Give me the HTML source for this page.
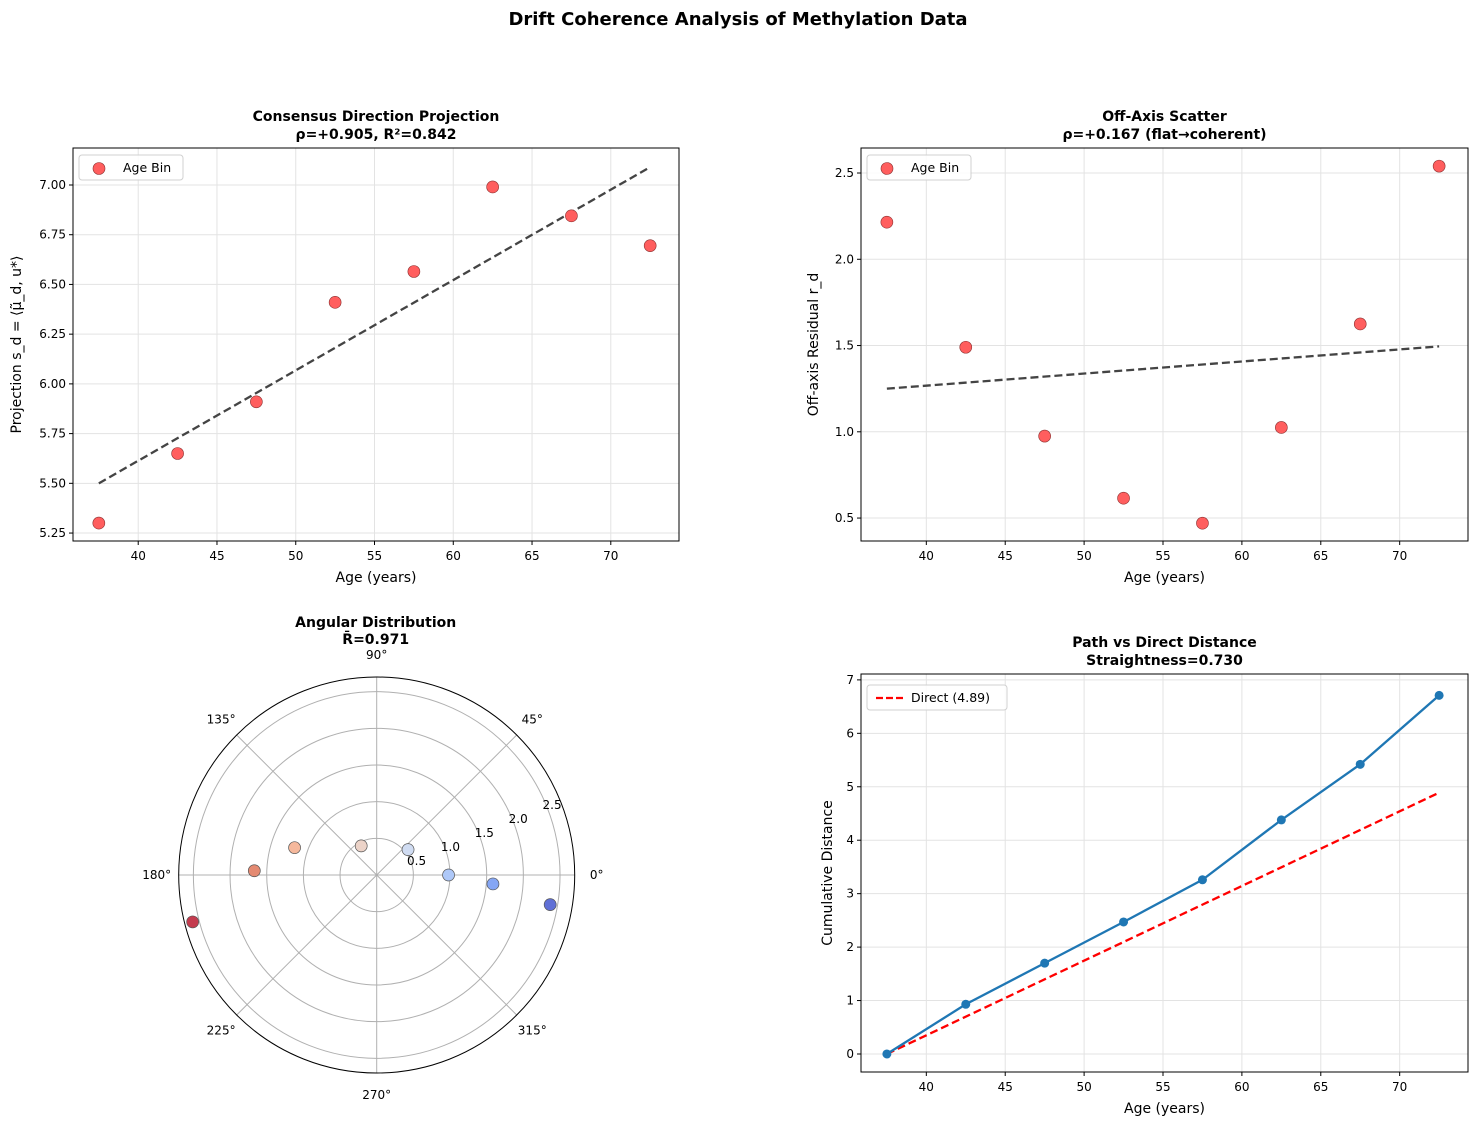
<!DOCTYPE html>
<html><head><meta charset="utf-8"><style>
body{margin:0;background:#fff;font-family:"Liberation Sans","DejaVu Sans",sans-serif;}
svg text{font-family:"DejaVu Sans","Liberation Sans",sans-serif;}
</style></head><body>
<svg id="fig" width="1477" height="1126" xmlns="http://www.w3.org/2000/svg">
<text x="738" y="25" text-anchor="middle" font-size="18" font-weight="bold">Drift Coherence Analysis of Methylation Data</text>
</svg>
<script>
const ages=[37.5,42.5,47.5,52.5,57.5,62.5,67.5,72.5];
const projection=[5.30,5.65,5.91,6.41,6.565,6.99,6.845,6.695];
const projTrend=[5.50,7.09];
const residual=[2.215,1.49,0.975,0.615,0.47,1.025,1.625,2.54];
const resTrend=[1.25,1.495];
const cumDist=[0,0.93,1.70,2.47,3.26,4.38,5.42,6.71];
const directDist=[0,4.89];
const polarR=[0.98,1.59,2.40,0.55,0.45,1.18,1.67,2.59];
const polarThetaDeg=[0,-4.4,-9.7,39,118,161.6,178,194.3];
const polarColors=['#aec8f8','#85a6f4','#6070d6','#d0dcf2','#ecd3c8','#f5b89c','#e48a72','#c43b4e'];
const xTicks=[40,45,50,55,60,65,70];
const yTicksA=[5.25,5.50,5.75,6.00,6.25,6.50,6.75,7.00];
const yTicksB=[0.5,1.0,1.5,2.0,2.5];
const yTicksD=[0,1,2,3,4,5,6,7];

const NS='http://www.w3.org/2000/svg';
const fig=document.getElementById('fig');
function el(tag,attrs,parent,txt){const e=document.createElementNS(NS,tag);for(const k in attrs)e.setAttribute(k,attrs[k]);if(txt!==undefined)e.textContent=txt;(parent||fig).appendChild(e);return e;}

function panel(o){
  const g=el('g',{});
  
  
  const sx=v=>o.x0+(v-o.xmin)/(o.xmax-o.xmin)*(o.x1-o.x0);
  const sy=v=>o.y1-(v-o.ymin)/(o.ymax-o.ymin)*(o.y1-o.y0);
  // grid
  xTicks.forEach(t=>{const l=el('line',{x1:sx(t),x2:sx(t),y1:o.y0,y2:o.y1,stroke:'#e3e3e3','stroke-width':1},g);});
  o.yTicks.forEach(t=>{const l=el('line',{x1:o.x0,x2:o.x1,y1:sy(t),y2:sy(t),stroke:'#e3e3e3','stroke-width':1},g);});
  // ticks
  xTicks.forEach(t=>{el('line',{x1:sx(t),x2:sx(t),y1:o.y1,y2:o.y1+4,stroke:'#000'},g);const tx=el('text',{x:sx(t),y:o.y1+19,'text-anchor':'middle','font-size':12},g,String(t));});
  o.yTicks.forEach(t=>{el('line',{x1:o.x0-4,x2:o.x0,y1:sy(t),y2:sy(t),stroke:'#000'},g);const tx=el('text',{x:o.x0-7,y:sy(t)+4,'text-anchor':'end','font-size':12},g,t.toFixed(o.dec));});
  o.draw(g,sx,sy);
  const fr=el('rect',{x:o.x0,y:o.y0,width:o.x1-o.x0,height:o.y1-o.y0,fill:'none',stroke:'#000','stroke-width':1},g);
  
  const cx=(o.x0+o.x1)/2;
  const t1=el('text',{x:cx,y:o.y0-27,'text-anchor':'middle','font-size':14,'font-weight':'bold'},g,o.t1);
  const t2=el('text',{x:cx,y:o.y0-9,'text-anchor':'middle','font-size':14,'font-weight':'bold'},g,o.t2);
  if(o.xlabel){const xl=el('text',{x:cx,y:o.y1+41,'text-anchor':'middle','font-size':14},g,o.xlabel);}
  const yl=el('text',{x:0,y:0,'text-anchor':'middle','font-size':14,transform:`translate(${o.ylx},${(o.y0+o.y1)/2}) rotate(-90)`},g,o.ylabel);
}
function scatterDraw(vals,trend){return (g,sx,sy)=>{
  const tl=el('line',{x1:sx(ages[0]),y1:sy(trend[0]),x2:sx(ages[ages.length-1]),y2:sy(trend[1]),stroke:'#444','stroke-width':2.3,'stroke-dasharray':'8,4'},g);
  
  vals.forEach((v,i)=>{const c=el('circle',{cx:sx(ages[i]),cy:sy(v),r:6,fill:'#ff5e5e',stroke:'#8b3030','stroke-width':0.6},g);});
  const lg=el('g',{},g);
  const x0=parseFloat(g.querySelector('rect')?0:0);
};}
function legend(g,x,y,w,kind,label){
  const lg=el('g',{},g);
  el('rect',{x:x,y:y,width:w,height:25,rx:3,fill:'#fff','fill-opacity':0.85,stroke:'#d0d0d0'},lg);
  if(kind==='dot'){el('circle',{cx:x+20,cy:y+13.5,r:6,fill:'#ff5e5e',stroke:'#8b3030','stroke-width':0.6},lg);}
  else{el('line',{x1:x+9,x2:x+37,y1:y+13,y2:y+13,stroke:'#f00','stroke-width':2.3,'stroke-dasharray':'7,3'},lg);}
  const t=el('text',{x:x+44,y:y+17,'font-size':12.5},lg,label);
}
panel({name:'consensus-projection-panel',x0:73,x1:679,y0:148,y1:541,xmin:35.86,xmax:74.33,ymin:5.21,ymax:7.186,yTicks:yTicksA,dec:2,
 t1:'Consensus Direction Projection',t2:'ρ=+0.905, R²=0.842',xlabel:'Age (years)',ylabel:'Projection s_d = ⟨μ̃_d, u*⟩',ylx:21,
 draw:(g,sx,sy)=>{scatterDraw(projection,projTrend)(g,sx,sy);legend(g,79,155,104,'dot','Age Bin');}});
panel({name:'off-axis-scatter-panel',x0:861,x1:1468,y0:148,y1:541,xmin:35.86,xmax:74.33,ymin:0.367,ymax:2.645,yTicks:yTicksB,dec:1,
 t1:'Off-Axis Scatter',t2:'ρ=+0.167 (flat→coherent)',xlabel:'Age (years)',ylabel:'Off-axis Residual r_d',ylx:818,
 draw:(g,sx,sy)=>{scatterDraw(residual,resTrend)(g,sx,sy);legend(g,867,155,104,'dot','Age Bin');}});
panel({name:'path-distance-panel',x0:861,x1:1468,y0:674,y1:1072,xmin:35.86,xmax:74.33,ymin:-0.337,ymax:7.11,yTicks:yTicksD,dec:0,
 t1:'Path vs Direct Distance',t2:'Straightness=0.730',xlabel:'Age (years)',ylabel:'Cumulative Distance',ylx:832,
 draw:(g,sx,sy)=>{
  const dl=el('line',{x1:sx(ages[0]),y1:sy(directDist[0]),x2:sx(ages[7]),y2:sy(directDist[1]),stroke:'#f00','stroke-width':2.3,'stroke-dasharray':'8,4'},g);
  
  const pl=el('polyline',{points:cumDist.map((v,i)=>sx(ages[i])+','+sy(v)).join(' '),fill:'none',stroke:'#1f77b4','stroke-width':2.3},g);
  
  cumDist.forEach((v,i)=>{const c=el('circle',{cx:sx(ages[i]),cy:sy(v),r:4.5,fill:'#1f77b4'},g);});
  legend(g,867,685,140,'line','Direct (4.89)');
 }});
// polar
(function(){
  const g=el('g',{});
  const cx=376.7,cy=875,R=198,rmax=2.7;const sr=r=>r/rmax*R;
  [0.5,1,1.5,2,2.5].forEach(r=>{const c=el('circle',{cx:cx,cy:cy,r:sr(r),fill:'none',stroke:'#b0b0b0','stroke-width':1},g);});
  for(let a=0;a<360;a+=45){const rad=a*Math.PI/180;
    const l=el('line',{x1:cx,y1:cy,x2:cx+R*Math.cos(rad),y2:cy-R*Math.sin(rad),stroke:'#b0b0b0','stroke-width':1},g);
    const lx=cx+(R+22)*Math.cos(rad),ly=cy-(R+22)*Math.sin(rad);
    const t=el('text',{x:lx,y:ly+4,'text-anchor':'middle','font-size':12},g,a+'°');}
  [0.5,1.0,1.5,2.0,2.5].forEach(r=>{const rad=22.5*Math.PI/180;const t=el('text',{x:cx+sr(r)*Math.cos(rad)+6,y:cy-sr(r)*Math.sin(rad)+4,'text-anchor':'middle','font-size':12},g,r.toFixed(1));});
  const o=el('circle',{cx:cx,cy:cy,r:R,fill:'none',stroke:'#000','stroke-width':1},g);
  polarR.forEach((r,i)=>{const rad=polarThetaDeg[i]*Math.PI/180;const c=el('circle',{cx:cx+sr(r)*Math.cos(rad),cy:cy-sr(r)*Math.sin(rad),r:6,fill:polarColors[i],stroke:'#555','stroke-width':0.7},g);});
  const t1=el('text',{x:cx-1,y:627,'text-anchor':'middle','font-size':14,'font-weight':'bold'},g,'Angular Distribution');
  const t2=el('text',{x:cx-1,y:644,'text-anchor':'middle','font-size':14,'font-weight':'bold'},g,'R̄=0.971');
})();
</script>
</body></html>
